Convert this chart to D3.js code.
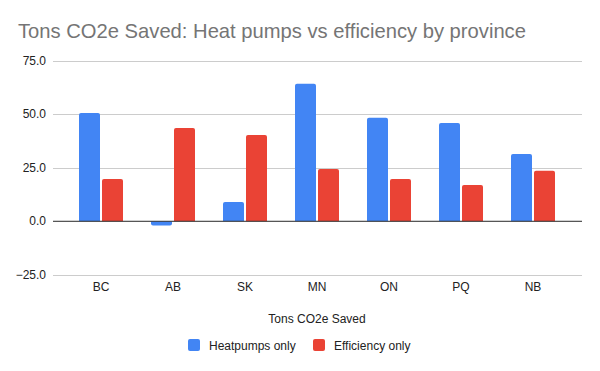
<!DOCTYPE html>
<html>
<head>
<meta charset="utf-8">
<script src="https://cdn.jsdelivr.net/npm/d3@7"></script>
<style>
  body { margin: 0; background: #fff; }
  svg { display: block; font-family: "Liberation Sans", Arial, sans-serif; }
</style>
</head>
<body>
<svg id="chart" width="600" height="371"></svg>
<script>
const provinces = ["BC", "AB", "SK", "MN", "ON", "PQ", "NB"];
const heatpumpsOnly = [50.7, -2.0, 9.0, 64.4, 48.4, 46.0, 31.5];
const efficiencyOnly = [19.8, 43.7, 40.4, 24.5, 19.8, 17.0, 23.6];
const seriesNames = ["Heatpumps only", "Efficiency only"];
const seriesColors = ["#4285f4", "#ea4335"];
const yTicks = [-25, 0, 25, 50, 75];

const svg = d3.select("#chart");
const gridLeft = 53, gridRight = 582;

const scaleX = d3.scaleBand()
    .domain(provinces)
    .range([65, 569])
    .paddingInner(0)
    .paddingOuter(0);

const scaleY = d3.scaleLinear()
    .domain([-25, 75])
    .range([274.7, 61]);

// title
svg.append("text")
    .attr("x", 18)
    .attr("y", 38)
    .attr("fill", "#757575")
    .attr("font-size", 20.2)
    .text("Tons CO2e Saved: Heat pumps vs efficiency by province");

// gridlines + y labels
svg.append("g")
    .selectAll("line")
    .data(yTicks)
    .join("line")
    .attr("x1", gridLeft)
    .attr("x2", gridRight)
    .attr("y1", d => Math.round(scaleY(d)) + 0.5)
    .attr("y2", d => Math.round(scaleY(d)) + 0.5)
    .attr("stroke", "#cccccc")
    .attr("stroke-width", 1);

svg.append("g")
    .selectAll("text")
    .data(yTicks)
    .join("text")
    .attr("x", 46)
    .attr("y", d => scaleY(d) + 4)
    .attr("text-anchor", "end")
    .attr("font-size", 12)
    .attr("fill", "#222")
    .text(d => d3.format(".1f")(d));

// bars
const barW = 21, gap = 2;
const series = [heatpumpsOnly, efficiencyOnly];

function barPath(x, w, v) {
    const y0 = scaleY(0), y1 = scaleY(v);
    const r = Math.min(2, Math.abs(y1 - y0));
    if (v >= 0) {
        return `M${x},${y0}V${y1 + r}Q${x},${y1} ${x + r},${y1}H${x + w - r}Q${x + w},${y1} ${x + w},${y1 + r}V${y0}Z`;
    }
    return `M${x},${y0}V${y1 - r}Q${x},${y1} ${x + r},${y1}H${x + w - r}Q${x + w},${y1} ${x + w},${y1 - r}V${y0}Z`;
}

series.forEach((values, si) => {
    svg.append("g")
        .selectAll("path")
        .data(provinces)
        .join("path")
        .attr("fill", seriesColors[si])
        .attr("d", (p, i) => {
            const cx = scaleX(p) + scaleX.bandwidth() / 2;
            const x = si === 0 ? cx - gap / 2 - barW : cx + gap / 2;
            return barPath(x, barW, values[i]);
        });
});

// zero line
svg.append("line")
    .attr("x1", gridLeft)
    .attr("x2", gridRight)
    .attr("y1", scaleY(0))
    .attr("y2", scaleY(0))
    .attr("stroke", "#333333")
    .attr("stroke-width", 1);

// x labels
svg.append("g")
    .selectAll("text")
    .data(provinces)
    .join("text")
    .attr("x", p => scaleX(p) + scaleX.bandwidth() / 2)
    .attr("y", 291)
    .attr("text-anchor", "middle")
    .attr("font-size", 12)
    .attr("fill", "#222")
    .text(p => p);

// x axis title
svg.append("text")
    .attr("x", 317)
    .attr("y", 323)
    .attr("text-anchor", "middle")
    .attr("font-size", 12)
    .attr("fill", "#222")
    .text("Tons CO2e Saved");

// legend
const legendX = [188, 313];
const legend = svg.append("g")
    .selectAll("g")
    .data(seriesNames)
    .join("g")
    .attr("transform", (d, i) => `translate(${legendX[i]}, 339)`);

legend.append("rect")
    .attr("width", 12)
    .attr("height", 12)
    .attr("rx", 2)
    .attr("fill", (d, i) => seriesColors[i]);

legend.append("text")
    .attr("x", 21)
    .attr("y", 10.5)
    .attr("font-size", 12)
    .attr("fill", "#222")
    .text(d => d);
</script>
</body>
</html>
